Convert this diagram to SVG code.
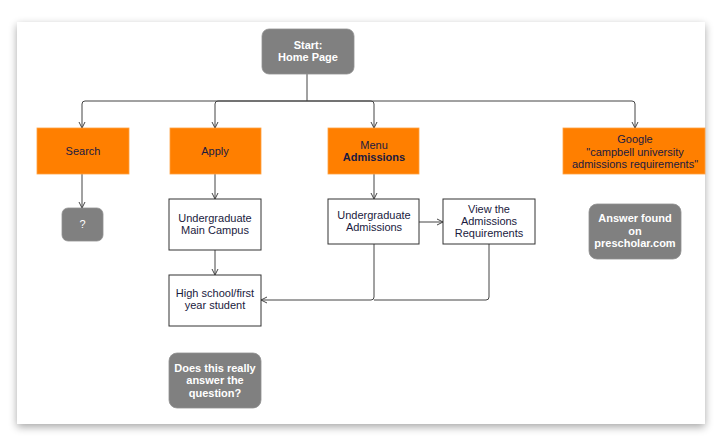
<svg xmlns="http://www.w3.org/2000/svg" width="722" height="443" viewBox="0 0 722 443">
<defs>
<filter id="sh" x="-5%" y="-5%" width="110%" height="115%">
<feGaussianBlur in="SourceAlpha" stdDeviation="4"/>
<feOffset dy="3"/>
<feComponentTransfer><feFuncA type="linear" slope="0.35"/></feComponentTransfer>
<feMerge><feMergeNode/><feMergeNode in="SourceGraphic"/></feMerge>
</filter>
<marker id="ar" markerWidth="8" markerHeight="8" refX="7" refY="4" orient="auto" markerUnits="userSpaceOnUse">
<path d="M1,1 L7,4 L1,7" fill="none" stroke="#444" stroke-width="1"/>
</marker>
<style>
text{font-family:"Liberation Sans",Arial,sans-serif;font-size:11px;text-anchor:middle}
.or{fill:#ff7f00;stroke:#ffa040;stroke-width:0.8}
.wb{fill:#fff;stroke:#333;stroke-width:1}
.gr{fill:#808080;stroke:#909090;stroke-width:0.8}
.dk{fill:#1a1a40}
.wt{fill:#fff;font-weight:bold}
.b{font-weight:bold}
.c{fill:none;stroke:#444;stroke-width:1}
</style>
</defs>
<rect x="0" y="0" width="722" height="443" fill="#fff"/>
<rect x="17" y="22" width="688" height="402" fill="#fff" filter="url(#sh)"/>
<g id="connectors">
<path class="c" d="M307,74 V101"/>
<path class="c" d="M307,101 H85 Q82,101 82,104 V128" marker-end="url(#ar)"/>
<path class="c" d="M307,101 H218 Q215,101 215,104 V128" marker-end="url(#ar)"/>
<path class="c" d="M307,101 H371 Q374,101 374,104 V128" marker-end="url(#ar)"/>
<path class="c" d="M307,101 H632 Q635,101 635,104 V128" marker-end="url(#ar)"/>
<path class="c" d="M82,174 V208" marker-end="url(#ar)"/>
<path class="c" d="M215,174 V199" marker-end="url(#ar)"/>
<path class="c" d="M215,250 V275" marker-end="url(#ar)"/>
<path class="c" d="M374,174 V199" marker-end="url(#ar)"/>
<path class="c" d="M419,222 H443" marker-end="url(#ar)"/>
<path class="c" d="M374,244 V297 Q374,300 371,300 H261" marker-end="url(#ar)"/>
<path class="c" d="M489,244 V297 Q489,300 486,300 H374"/>
</g>
<g id="start">
<rect class="gr" x="262" y="29" width="92" height="45" rx="7"/>
<text class="wt" x="308" y="49">Start:</text>
<text class="wt" x="308" y="61">Home Page</text>
</g>
<g id="search">
<rect class="or" x="37" y="128" width="92" height="46"/>
<text class="dk" x="83" y="155">Search</text>
</g>
<g id="apply">
<rect class="or" x="170" y="128" width="91" height="46"/>
<text class="dk" x="215" y="155">Apply</text>
</g>
<g id="menu">
<rect class="or" x="328" y="128" width="91" height="46"/>
<text class="dk" x="374" y="149">Menu</text>
<text class="dk b" x="374" y="161">Admissions</text>
</g>
<g id="google">
<rect class="or" x="563" y="128" width="142" height="46"/>
<text class="dk" x="635" y="143">Google</text>
<text class="dk" x="635" y="156">"campbell university</text>
<text class="dk" x="635" y="168">admissions requirements"</text>
</g>
<g id="question">
<rect class="gr" x="62" y="208" width="41" height="33" rx="6"/>
<text class="wt" x="82.5" y="228" style="font-weight:normal">?</text>
</g>
<g id="ugmain">
<rect class="wb" x="169" y="199" width="92" height="51"/>
<text class="dk" x="215" y="222">Undergraduate</text>
<text class="dk" x="215" y="234">Main Campus</text>
</g>
<g id="ugadm">
<rect class="wb" x="328" y="199" width="91" height="45"/>
<text class="dk" x="374" y="219">Undergraduate</text>
<text class="dk" x="374" y="231">Admissions</text>
</g>
<g id="viewreq">
<rect class="wb" x="443" y="199" width="92" height="45"/>
<text class="dk" x="489" y="213">View the</text>
<text class="dk" x="489" y="225">Admissions</text>
<text class="dk" x="489" y="237">Requirements</text>
</g>
<g id="highschool">
<rect class="wb" x="169" y="275" width="92" height="51"/>
<text class="dk" x="215" y="297">High school/first</text>
<text class="dk" x="215" y="309">year student</text>
</g>
<g id="doesthis">
<rect class="gr" x="169" y="353" width="92" height="55" rx="8"/>
<text class="wt" x="215" y="372">Does this really</text>
<text class="wt" x="215" y="384">answer the</text>
<text class="wt" x="215" y="397">question?</text>
</g>
<g id="answer">
<rect class="gr" x="589" y="204" width="92" height="55" rx="8"/>
<text class="wt" x="635" y="222">Answer found</text>
<text class="wt" x="635" y="235">on</text>
<text class="wt" x="635" y="247">prescholar.com</text>
</g>
</svg>
